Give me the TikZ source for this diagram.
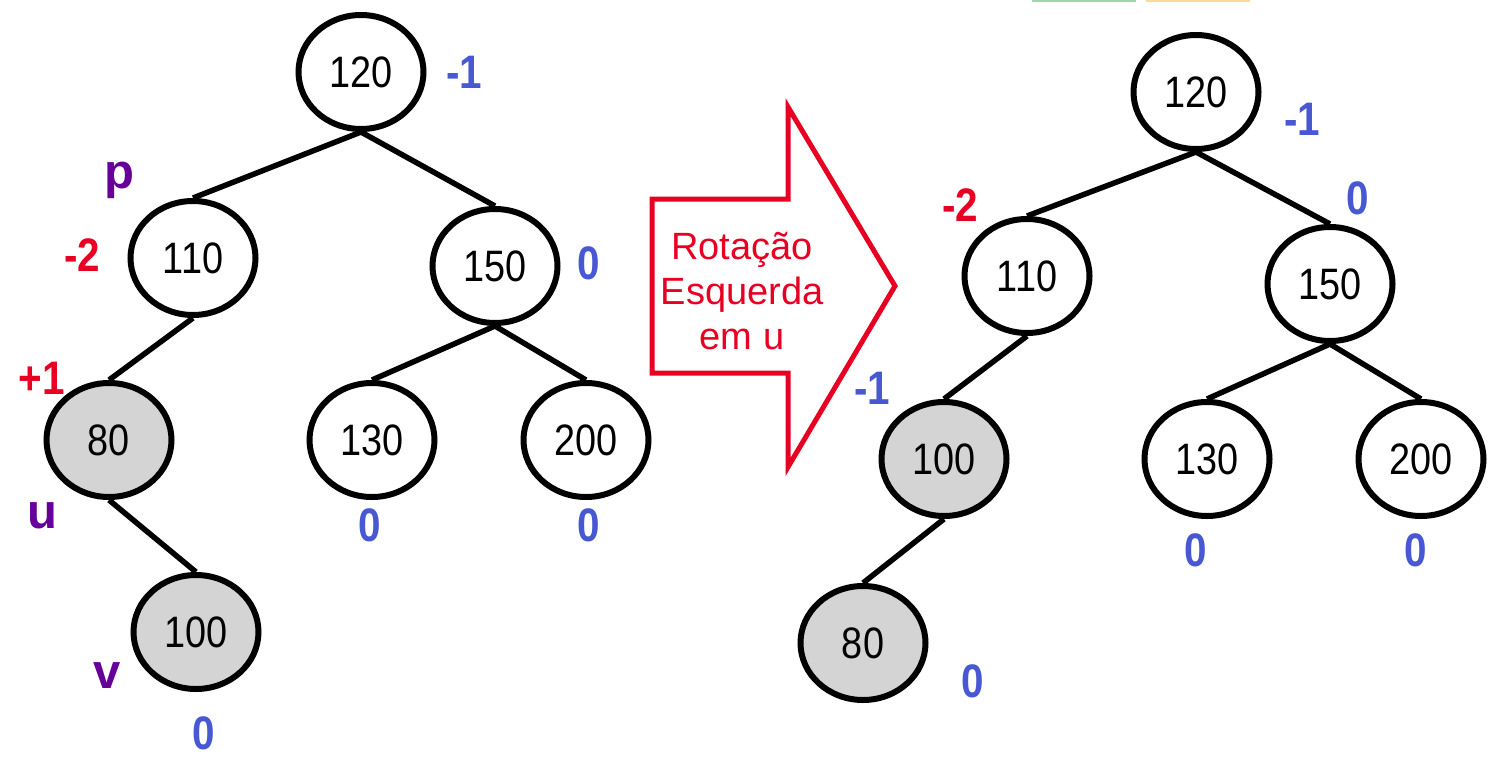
\documentclass[tikz,border=0pt]{standalone}
\usepackage{fontspec}
\setmainfont{Liberation Sans}
\newfontfamily\nodefont[FakeStretch=0.86]{Liberation Sans}
\newfontfamily\balfont[FakeStretch=0.86]{Liberation Sans}
\usetikzlibrary{shapes.geometric}
\definecolor{bfblue}{RGB}{72,88,210}
\definecolor{bfred}{RGB}{232,0,35}
\definecolor{bfpurple}{RGB}{102,0,153}
\definecolor{nodegray}{RGB}{212,212,212}
\definecolor{slivgreen}{RGB}{160,215,170}
\definecolor{slivorange}{RGB}{255,215,150}
\begin{document}
\begin{tikzpicture}[x=1pt,y=-1pt,
  tnode/.style={ellipse, draw=black, line width=6pt, minimum width=125pt, minimum height=114pt, inner sep=0pt, fill=white, font=\nodefont\fontsize{44}{50}\selectfont},
  hinode/.style={tnode, fill=nodegray},
  edge/.style={line width=5.5pt},
  bal/.style={inner sep=0pt, font=\balfont\bfseries\fontsize{47}{52}\selectfont},
  balblue/.style={bal, text=bfblue},
  balred/.style={bal, text=bfred},
  ptr/.style={inner sep=0pt, text=bfpurple, font=\bfseries\fontsize{49}{52}\selectfont}]
\useasboundingbox (0,0) rectangle (1500,774);
\fill[slivgreen] (1032,0) rectangle (1136,2);
\fill[slivorange] (1146,0) rectangle (1250,2);

% left tree
\node[tnode] (L120) at (361,72) {120};
\node[tnode] (L110) at (193,258) {110};
\node[tnode] (L150) at (495,266) {150};
\node[hinode] (L80) at (109,440) {80};
\node[tnode] (L130) at (372,440) {130};
\node[tnode] (L200) at (586,440) {200};
\node[hinode] (L100) at (196,632) {100};
\draw[edge] (L120.south) -- (L110.north);
\draw[edge] (L120.south) -- (L150.north);
\draw[edge] (L110.south) -- (L80.north);
\draw[edge] (L150.south) -- (L130.north);
\draw[edge] (L150.south) -- (L200.north);
\draw[edge] (L80.south) -- (L100.north);

\node[balblue] (lb120) at (464,72) {-1};
\node[ptr] (lp) at (119,180) {p};
\node[balred] (lb110) at (82,255) {-2};
\node[balblue] (lb150) at (589,263) {0};
\node[balred] (lb80) at (42,378) {+1};
\node[ptr] (lu) at (42,516) {u};
\node[balblue] (lb130) at (370,525) {0};
\node[balblue] (lb200) at (589,525) {0};
\node[ptr] (lv) at (107,676) {v};
\node[balblue] (lb100) at (204,733) {0};

% arrow
\draw[bfred, line width=5pt, line join=miter] (652,199) -- (788,199) -- (788,107) -- (895,286) -- (788,467) -- (788,373) -- (652,373) -- cycle;
\node[text=bfred, align=center, inner sep=0pt, font=\fontsize{38}{45}\selectfont] (rot) at (742,291) {Rotação\\Esquerda\\em u};

% right tree
\node[tnode] (R120) at (1196,92) {120};
\node[tnode] (R110) at (1027,276) {110};
\node[tnode] (R150) at (1330,284) {150};
\node[hinode] (R100) at (944,459) {100};
\node[tnode] (R130) at (1207,459) {130};
\node[tnode] (R200) at (1421,459) {200};
\node[hinode] (R80) at (863,643) {80};
\draw[edge] (R120.south) -- (R110.north);
\draw[edge] (R120.south) -- (R150.north);
\draw[edge] (R110.south) -- (R100.north);
\draw[edge] (R150.south) -- (R130.north);
\draw[edge] (R150.south) -- (R200.north);
\draw[edge] (R100.south) -- (R80.north);

\node[balblue] (rb120) at (1302,119) {-1};
\node[balred] (rb110) at (960,205) {-2};
\node[balblue] (rb150) at (1358,198) {0};
\node[balblue] (rb100) at (872,388) {-1};
\node[balblue] (rb130) at (1196,550) {0};
\node[balblue] (rb200) at (1416,550) {0};
\node[balblue] (rb80) at (973,681) {0};
\end{tikzpicture}
\end{document}
